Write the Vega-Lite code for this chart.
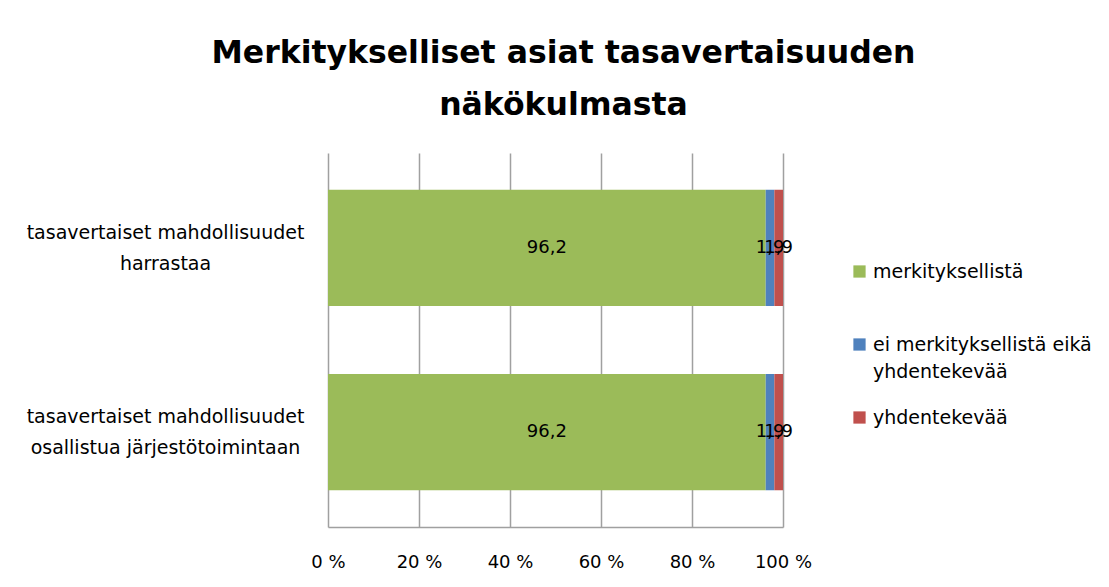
{
  "$schema": "https://vega.github.io/schema/vega-lite/v6.json",
  "width": 455,
  "height": 374,
  "autosize": "none",
  "padding": {"left": 328, "top": 153, "right": 326, "bottom": 60},
  "background": "white",
  "title": {
    "text": ["Merkitykselliset asiat tasavertaisuuden", "näkökulmasta"],
    "fontSize": 31.5,
    "font": "DejaVu Sans",
    "fontWeight": "bold",
    "color": "black",
    "lineHeight": 52,
    "anchor": "middle",
    "offset": 32,
    "dx": 8
  },
  "data": {
    "values": [
      {"kysymys": "tasavertaiset mahdollisuudet|harrastaa", "luokka": "merkityksellistä", "jarjestys": 1, "arvo": 96.2},
      {"kysymys": "tasavertaiset mahdollisuudet|harrastaa", "luokka": "ei merkityksellistä eikä yhdentekevää", "jarjestys": 2, "arvo": 1.9},
      {"kysymys": "tasavertaiset mahdollisuudet|harrastaa", "luokka": "yhdentekevää", "jarjestys": 3, "arvo": 1.9},
      {"kysymys": "tasavertaiset mahdollisuudet|osallistua järjestötoimintaan", "luokka": "merkityksellistä", "jarjestys": 1, "arvo": 96.2},
      {"kysymys": "tasavertaiset mahdollisuudet|osallistua järjestötoimintaan", "luokka": "ei merkityksellistä eikä yhdentekevää", "jarjestys": 2, "arvo": 1.9},
      {"kysymys": "tasavertaiset mahdollisuudet|osallistua järjestötoimintaan", "luokka": "yhdentekevää", "jarjestys": 3, "arvo": 1.9}
    ]
  },
  "transform": [
    {"stack": "arvo", "groupby": ["kysymys"], "sort": [{"field": "jarjestys", "order": "ascending"}], "as": ["alku", "loppu"]},
    {"calculate": "(datum.alku + datum.loppu) / 2", "as": "keski"}
  ],
  "encoding": {
    "y": {
      "field": "kysymys",
      "type": "nominal",
      "sort": null,
      "scale": {"paddingInner": 0.37, "paddingOuter": 0.2},
      "axis": {
        "title": null,
        "domain": false,
        "ticks": false,
        "labelExpr": "split(datum.label, '|')",
        "labelAlign": "center",
        "labelBaseline": "middle",
        "labelPadding": 163,
        "labelOffset": -15,
        "labelFont": "DejaVu Sans",
        "labelFontSize": 19,
        "labelLineHeight": 31,
        "labelColor": "black",
        "labelLimit": 400
      }
    }
  },
  "layer": [
    {
      "mark": {"type": "bar"},
      "encoding": {
        "x": {
          "field": "alku",
          "type": "quantitative",
          "scale": {"domain": [0, 100], "nice": false},
          "axis": {
            "title": null,
            "values": [0, 20, 40, 60, 80, 100],
            "labelExpr": "datum.value + ' %'",
            "labelFlush": false,
            "labelOverlap": false,
            "grid": true,
            "gridColor": "#a0a0a0",
            "gridWidth": 1.5,
            "domainColor": "#a0a0a0",
            "domainWidth": 1.5,
            "ticks": false,
            "labelPadding": 26,
            "labelFont": "DejaVu Sans",
            "labelFontSize": 18,
            "labelColor": "black"
          }
        },
        "x2": {"field": "loppu"},
        "color": {
          "field": "luokka",
          "type": "nominal",
          "sort": ["merkityksellistä", "ei merkityksellistä eikä yhdentekevää", "yhdentekevää"],
          "scale": {
            "domain": ["merkityksellistä", "ei merkityksellistä eikä yhdentekevää", "yhdentekevää"],
            "range": ["#9BBB59", "#4F81BD", "#C0504D"]
          },
          "legend": {
            "title": null,
            "orient": "none",
            "legendX": 522,
            "legendY": 109,
            "symbolType": "square",
            "symbolSize": 150,
            "symbolStrokeWidth": 0,
            "labelFont": "DejaVu Sans",
            "labelFontSize": 19,
            "labelColor": "black",
            "labelLimit": 300,
            "labelExpr": "datum.label == 'ei merkityksellistä eikä yhdentekevää' ? ['ei merkityksellistä eikä', 'yhdentekevää'] : [datum.label, ' ']",
            "rowPadding": 26
          }
        }
      }
    },
    {
      "mark": {"type": "text", "font": "DejaVu Sans", "fontSize": 18, "color": "black"},
      "encoding": {
        "x": {"field": "keski", "type": "quantitative"},
        "text": {"field": "arvo", "type": "quantitative", "format": ".1f"}
      }
    }
  ],
  "config": {
    "locale": {"number": {"decimal": ",", "thousands": "\u00a0", "grouping": [3], "currency": ["", " €"]}},
    "view": {"stroke": null},
    "style": {"guide-label": {"lineHeight": 27}}
  }
}
